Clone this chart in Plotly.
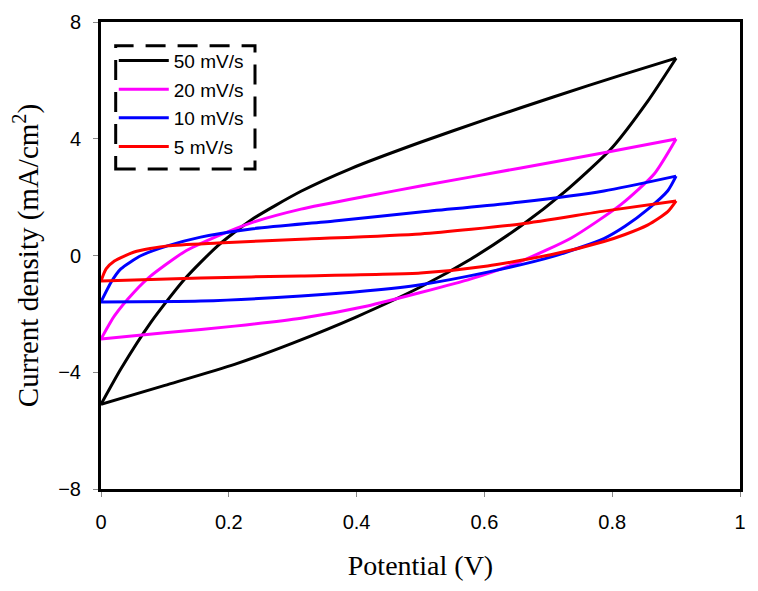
import plotly.graph_objects as go

# ---- data ----
series_names = ["50 mV/s", "20 mV/s", "10 mV/s", "5 mV/s"]
series_colors = ["#000000", "#ff00ff", "#0000ff", "#ff0000"]

# 50 mV/s
v50_fwd = [0, 0.031, 0.078, 0.13, 0.183, 0.235, 0.313, 0.391, 0.5, 0.605, 0.709, 0.814, 0.9]
j50_fwd = [-5.1, -3.89, -2.29, -0.83, 0.34, 1.22, 2.2, 2.98, 3.88, 4.68, 5.44, 6.18, 6.76]
v50_rev = [0.9, 0.856, 0.798, 0.725, 0.657, 0.579, 0.5, 0.4, 0.3, 0.209, 0.1, 0]
j50_rev = [6.76, 5.3, 3.65, 2.17, 1.01, -0.12, -1.08, -2.1, -3.0, -3.73, -4.45, -5.1]

# 20 mV/s
v20_fwd = [0, 0.021, 0.052, 0.078, 0.13, 0.183, 0.235, 0.313, 0.417, 0.5, 0.657, 0.787, 0.9]
j20_fwd = [-2.86, -2.07, -1.25, -0.70, 0.12, 0.67, 1.12, 1.59, 2.04, 2.38, 3.0, 3.52, 3.99]
v20_rev = [0.9, 0.866, 0.814, 0.736, 0.657, 0.579, 0.5, 0.417, 0.313, 0.209, 0.104, 0]
j20_rev = [3.99, 2.8, 1.75, 0.6, -0.2, -0.8, -1.27, -1.73, -2.15, -2.42, -2.64, -2.86]

# 10 mV/s
v10_fwd = [0, 0.016, 0.031, 0.063, 0.104, 0.156, 0.235, 0.365, 0.5, 0.657, 0.787, 0.9]
j10_fwd = [-1.59, -0.91, -0.46, 0.0, 0.33, 0.63, 0.91, 1.18, 1.49, 1.83, 2.21, 2.72]
v10_rev = [0.9, 0.887, 0.856, 0.82, 0.787, 0.709, 0.605, 0.5, 0.417, 0.313, 0.156, 0]
j10_rev = [2.72, 2.22, 1.59, 1.0, 0.58, -0.02, -0.57, -1.0, -1.21, -1.39, -1.56, -1.59]

# 5 mV/s
v5_fwd = [0, 0.008, 0.021, 0.052, 0.104, 0.183, 0.313, 0.5, 0.657, 0.787, 0.9]
j5_fwd = [-0.87, -0.46, -0.19, 0.12, 0.33, 0.43, 0.56, 0.74, 1.08, 1.52, 1.87]
v5_rev = [0.9, 0.887, 0.856, 0.82, 0.787, 0.709, 0.605, 0.5, 0.313, 0.156, 0]
j5_rev = [1.87, 1.5, 1.05, 0.72, 0.48, 0.05, -0.36, -0.60, -0.70, -0.77, -0.87]

x_ticks = [0, 0.2, 0.4, 0.6, 0.8, 1]
x_tick_labels = ["0", "0.2", "0.4", "0.6", "0.8", "1"]
y_ticks = [-8, -4, 0, 4, 8]
y_tick_labels = ["\u22128", "\u22124", "0", "4", "8"]

curves = [
    (v50_fwd, j50_fwd, v50_rev, j50_rev),
    (v20_fwd, j20_fwd, v20_rev, j20_rev),
    (v10_fwd, j10_fwd, v10_rev, j10_rev),
    (v5_fwd, j5_fwd, v5_rev, j5_rev),
]

fig = go.Figure()
for name, color, (xf, yf, xr, yr) in zip(series_names, series_colors, curves):
    fig.add_trace(go.Scatter(x=xf, y=yf, mode="lines", name=name, legendgroup=name,
                             line=dict(color=color, width=3, shape="spline", smoothing=0.6),
                             showlegend=True))
    fig.add_trace(go.Scatter(x=xr, y=yr, mode="lines", name=name, legendgroup=name,
                             line=dict(color=color, width=3, shape="spline", smoothing=0.6),
                             showlegend=False))

axis_common = dict(showline=True, linecolor="black", linewidth=3, mirror=True,
                   showgrid=False, zeroline=False, ticks="outside", ticklen=5,
                   tickwidth=1, tickcolor="#888888",
                   tickfont=dict(family="Liberation Sans, Arial", size=20, color="black"))

fig.update_layout(
    width=750, height=583,
    margin=dict(l=93, r=18, t=14, b=102, autoexpand=False),
    paper_bgcolor="white", plot_bgcolor="white",
    showlegend=True,
    legend=dict(x=0.02, y=0.958, xanchor="left", yanchor="top",
                bgcolor="rgba(0,0,0,0)", borderwidth=0,
                font=dict(family="Liberation Sans, Arial", size=19, color="black"),
                traceorder="grouped", tracegroupgap=1, itemwidth=50),
    xaxis=dict(range=[0, 1], tickvals=x_ticks, ticktext=x_tick_labels,
               title=dict(text="Potential (V)", standoff=24,
                          font=dict(family="Liberation Serif, Times New Roman", size=28, color="black")),
               ticklabelstandoff=8, **axis_common),
    yaxis=dict(range=[-8, 8], tickvals=y_ticks, ticktext=y_tick_labels,
               title=dict(text="Current density (mA/cm<sup>2</sup>)", standoff=12,
                          font=dict(family="Liberation Serif, Times New Roman", size=29, color="black")),
               ticklabelstandoff=8, **axis_common),
    shapes=[dict(type="rect", xref="paper", yref="paper",
                 x0=0.023, x1=0.241, y0=0.685, y1=0.949,
                 line=dict(color="black", width=3, dash="20px,12px"),
                 fillcolor="rgba(0,0,0,0)")],
)

fig.write_html("out.html")
